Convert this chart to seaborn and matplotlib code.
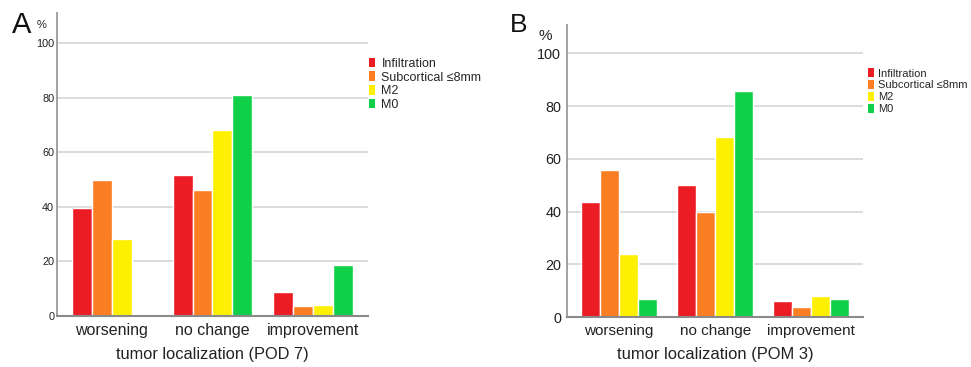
import matplotlib
matplotlib.use("Agg")
import matplotlib.pyplot as plt
import seaborn as sns
import pandas as pd

outcomes = ["worsening", "no change", "improvement"]
groups = ["Infiltration", "Subcortical ≤8mm", "M2", "M0"]
colors = ["#EC1C24", "#FB7E23", "#FFF000", "#10CF48"]

# Panel A (POD 7), values per group across outcomes
pod7_infiltration = [39.5, 51.7, 8.9]
pod7_subcortical = [50.0, 46.2, 3.8]
pod7_m2 = [28.1, 68.1, 4.0]
pod7_m0 = [0.0, 81.0, 18.7]

# Panel B (POM 3)
pom3_infiltration = [43.6, 50.0, 6.2]
pom3_subcortical = [55.9, 40.0, 4.0]
pom3_m2 = [23.9, 68.2, 8.0]
pom3_m0 = [6.9, 85.8, 7.0]

yticks = [0, 20, 40, 60, 80, 100]


def make_df(series):
    rows = []
    for g, vals in zip(groups, series):
        for o, v in zip(outcomes, vals):
            rows.append({"outcome": o, "group": g, "pct": v})
    return pd.DataFrame(rows)


df_a = make_df([pod7_infiltration, pod7_subcortical, pod7_m2, pod7_m0])
df_b = make_df([pom3_infiltration, pom3_subcortical, pom3_m2, pom3_m0])

sns.set_theme(style="white")
plt.rcParams["font.family"] = ["Liberation Sans", "DejaVu Sans"]

fig = plt.figure(figsize=(9.71, 3.67), dpi=100)
ax_a = fig.add_axes([0.0587, 0.139, 0.3203, 0.8256])
ax_b = fig.add_axes([0.5836, 0.1354, 0.3052, 0.7965])

cfg = [
    (ax_a, df_a, "tumor localization (POD 7)", (-0.545, 2.547), 111, 7.8, 11.5, 11.8, 9, (1.003, 0.852), 0.12, 0.5, 0.8, 0.5, 2),
    (ax_b, df_b, "tumor localization (POM 3)", (-0.547, 2.54), 110.7, 10.4, 11.0, 11.9, 8, (1.017, 0.852), 0.14, 0.5, 0.85, 0.4, 4),
]

for (ax, df, xlabel, xlim, ytop, ytfs, xtfs, xlfs, lgfs, anchor, lspace,
     hlen, hh, tpad, ypad) in cfg:
    sns.barplot(data=df, x="outcome", y="pct", hue="group", order=outcomes,
                hue_order=groups, palette=colors, width=0.79, gap=0,
                saturation=1, ax=ax, legend=True, edgecolor="white",
                linewidth=1.0)
    ax.set_xlim(*xlim)
    ax.set_ylim(0, ytop)
    ax.set_yticks(yticks)
    ax.yaxis.grid(True, color="#d9d9d9", linewidth=1.3)
    ax.set_axisbelow(True)
    for s in ["top", "right"]:
        ax.spines[s].set_visible(False)
    ax.spines["left"].set_color("#9a9a9a")
    ax.spines["left"].set_linewidth(1.3)
    ax.spines["bottom"].set_color("#8a8a8a")
    ax.spines["bottom"].set_linewidth(1.5)
    ax.spines["bottom"].set_zorder(5)
    ax.tick_params(axis="y", length=0, pad=ypad, labelsize=ytfs, labelcolor="#222222")
    ax.tick_params(axis="x", length=0, pad=5, labelsize=xtfs, labelcolor="#222222")
    ax.set_xlabel(xlabel, fontsize=xlfs, color="#222222", labelpad=6.5)
    ax.set_ylabel("")
    handles, labels = ax.get_legend_handles_labels()
    for h in handles:
        h.set_edgecolor("none")
    ax.legend(handles, labels, loc="upper left", bbox_to_anchor=anchor,
              frameon=False, fontsize=lgfs, borderpad=0, borderaxespad=0,
              handlelength=hlen, handleheight=hh, handletextpad=tpad,
              labelspacing=lspace)

fig.text(12 / 971, 1 - 33 / 367, "A", fontsize=21, color="#111111")
fig.text(37 / 971, 1 - 28 / 367, "%", fontsize=8, color="#222222")
fig.text(510 / 971, 1 - 32 / 367, "B", fontsize=19, color="#111111")
fig.text(538 / 971, 1 - 40 / 367, "%", fontsize=11, color="#222222")

fig.savefig("out.png", dpi=100)
